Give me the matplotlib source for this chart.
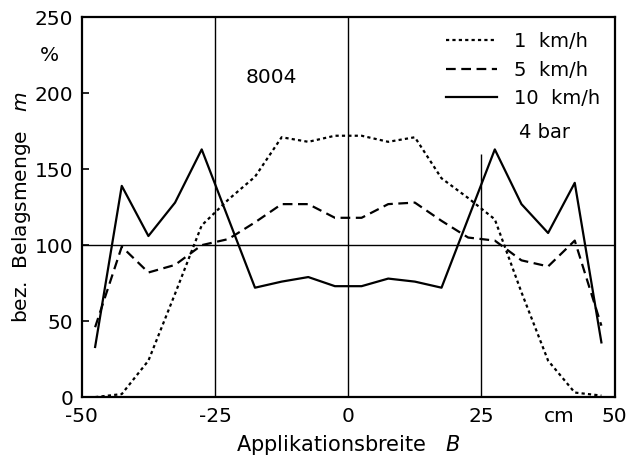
import numpy as np
import matplotlib
matplotlib.use("Agg")
import matplotlib.pyplot as plt

plt.rcParams['lines.scale_dashes'] = False

### Daten
breite = [-47.5, -42.5, -37.5, -32.5, -27.5, -22.5, -17.5, -12.5, -7.5, -2.5,
          2.5, 7.5, 12.5, 17.5, 22.5, 27.5, 32.5, 37.5, 42.5, 47.5]

v1 = [0, 2, 24, 68, 113, 130, 145, 171, 168, 172,
      172, 168, 171, 144, 131, 117, 69, 24, 3, 1]

v5 = [46, 99, 82, 87, 100, 104, 115, 127, 127, 118,
      118, 127, 128, 116, 105, 103, 90, 86, 103, 47]

breite10 = [-47.5, -42.5, -37.5, -32.5, -27.5, -17.5, -12.5, -7.5, -2.5,
            2.5, 7.5, 12.5, 17.5, 27.5, 32.5, 37.5, 42.5, 47.5]
v10 = [33, 139, 106, 128, 163, 72, 76, 79, 73,
       73, 78, 76, 72, 163, 127, 108, 141, 36]

xticks = [-50, -25, 0, 25, 39.5, 50]
xlabels = ['-50', '-25', '0', '25', 'cm', '50']
yticks = [0, 50, 100, 150, 200, 250]

fig = plt.figure(figsize=(6.39, 4.65), dpi=100)
ax = fig.add_axes([0.128, 0.146, 0.834, 0.817])

# Hilfslinien
ax.axhline(100, color='k', lw=1.0, zorder=1)
ax.axvline(-25, color='k', lw=1.0, zorder=1)
ax.axvline(0, color='k', lw=1.0, zorder=1)
ax.vlines(25, 0, 160, color='k', lw=1.0, zorder=1)

ax.plot(breite, v1, color='k', lw=1.6, dashes=(2.3, 2.3), label='1  km/h')
ax.plot(breite, v5, color='k', lw=1.6, dashes=(7, 4), label='5  km/h')
ax.plot(breite10, v10, color='k', lw=1.6, label='10  km/h')

ax.set_xlim(-50, 50)
ax.set_ylim(0, 250)
ax.set_xticks(xticks)
ax.set_xticklabels(xlabels)
ax.set_yticks(yticks)
ax.tick_params(axis='x', length=0, pad=7, labelsize=14.5)
ax.tick_params(axis='y', direction='in', length=5, width=1.2, pad=6, labelsize=14.5)
for s in ax.spines.values():
    s.set_linewidth(1.6)

ax.text(-0.06, 225, '%', transform=ax.get_yaxis_transform(), ha='center',
        va='center', fontsize=14.5)

ax.set_ylabel('bez.  Belagsmenge   $m$', fontsize=14.5)
ax.set_xlabel('Applikationsbreite   $B$', fontsize=15)
ax.yaxis.set_label_coords(-0.092, 0.5)
ax.xaxis.set_label_coords(0.5, -0.095)

ax.text(-14.5, 210, '8004', ha='center', va='center', fontsize=14.5)

leg = ax.legend(loc='upper right', frameon=False, fontsize=14, handlelength=2.6,
                labelspacing=0.5, handletextpad=0.9, borderaxespad=0.35)
ax.text(36.8, 174, '4 bar', ha='center', va='center', fontsize=14)

plt.savefig('out.png', dpi=100)
